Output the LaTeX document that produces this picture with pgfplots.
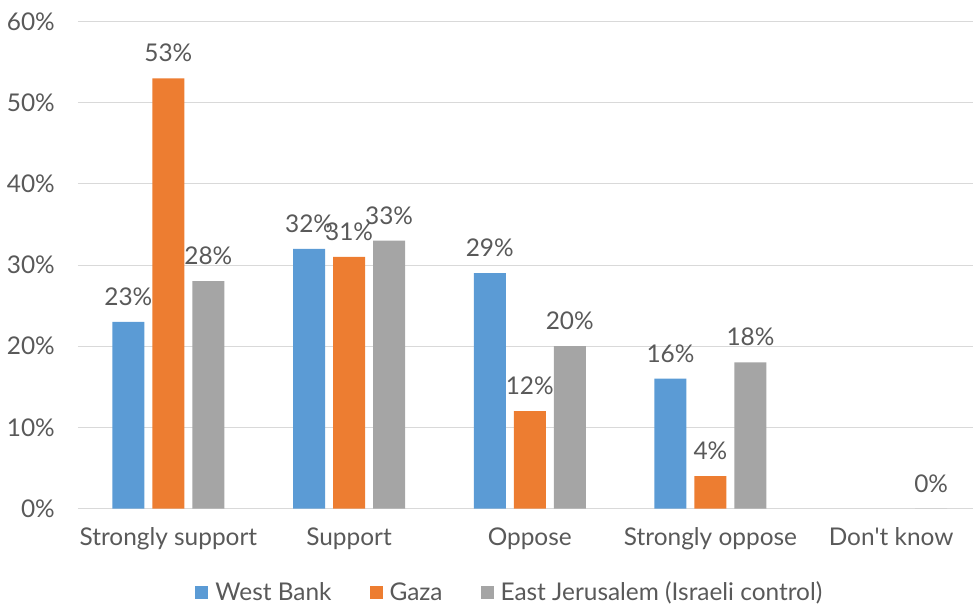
\documentclass[border=0pt]{standalone}
\usepackage{fontspec}
\setmainfont{Lato}
\usepackage{pgfplots}
\pgfplotsset{compat=1.18}
\definecolor{wb}{HTML}{5B9BD5}
\definecolor{gz}{HTML}{ED7D31}
\definecolor{ej}{HTML}{A5A5A5}
\definecolor{gridgray}{HTML}{D9D9D9}
\definecolor{txt}{HTML}{595959}
\newcommand{\lf}{\fontsize{24.5}{28}\selectfont}
\begin{document}
\begin{tikzpicture}
\useasboundingbox (-78bp,-98.5bp) rectangle (895bp,508.5bp);
\begin{axis}[
  scale only axis, width=903.5bp, height=487bp,
  xmin=-0.5, xmax=4.5, ymin=0, ymax=60,
  ybar=8bp, bar width=32bp,
  axis x line*=bottom, axis y line*=left,
  x axis line style={draw=gridgray, line width=1.2pt, -},
  y axis line style={draw=none},
  major tick length=0pt,
  ytick={0,10,...,60},
  yticklabel={\pgfmathprintnumber{\tick}\%},
  ymajorgrids, grid style={draw=gridgray, line width=1pt},
  xtick={0,1,2,3,4},
  xticklabels={Strongly support, Support, Oppose, Strongly oppose, Don\textquotesingle t know},
  /pgf/number format/assume math mode=true,
  tick label style={font=\lf, text=txt},
  yticklabel style={anchor=east, inner sep=0pt, xshift=-23bp},
  xticklabel style={anchor=base, inner sep=0pt, yshift=-37bp},
  nodes near coords={\pgfmathprintnumber{\pgfplotspointmeta}\%},
  nodes near coords style={font=\lf, text=txt, anchor=south, inner sep=0pt, yshift=16bp},
  legend style={at={(rel axis cs:0.478,-0.1715)}, anchor=center, draw=none, fill=none,
    font=\lf, text=txt, legend columns=3,
    /tikz/every odd column/.append style={column sep=5bp},
    /tikz/every even column/.append style={column sep=36bp}},
  legend image code/.code={\fill[#1] (0bp,-6.5bp) rectangle (13bp,6.5bp);},
  legend cell align=left,
]
\addplot[fill=wb, draw=none] coordinates {(0,23) (1,32) (2,29) (3,16)};
\addplot[fill=gz, draw=none] coordinates {(0,53) (1,31) (2,12) (3,4)};
\addplot[fill=ej, draw=none] coordinates {(0,28) (1,33) (2,20) (3,18) (4,0)};
\legend{West Bank, Gaza, East Jerusalem (Israeli control)}
\end{axis}
\end{tikzpicture}
\end{document}
